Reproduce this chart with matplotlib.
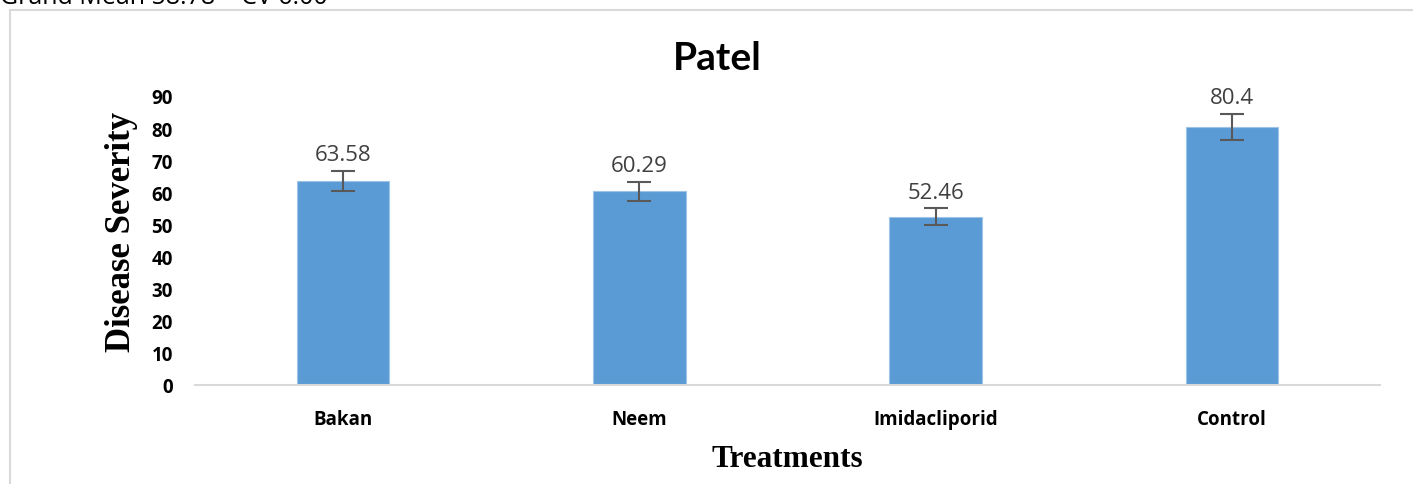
import matplotlib
matplotlib.use("Agg")
import matplotlib.pyplot as plt
from matplotlib.lines import Line2D

categories = ["Bakan", "Neem", "Imidacliporid", "Control"]
values = [63.58, 60.29, 52.46, 80.4]
errors = [3.2, 3.0, 2.6, 4.0]
value_labels = ["63.58", "60.29", "52.46", "80.4"]
yticks = [0, 10, 20, 30, 40, 50, 60, 70, 80, 90]

W, H = 1413, 485
fig = plt.figure(figsize=(W / 100, H / 100), dpi=100)
ax = fig.add_axes([195 / W, 1 - 386 / H, (1380 - 195) / W, (386 - 97) / H])

x = list(range(len(categories)))
ax.bar(x, values, width=0.313, color="#5B9BD5", edgecolor="#9DC3E6", linewidth=0.8, zorder=2)
ax.errorbar(x, values, yerr=errors, fmt="none", ecolor="#595959", elinewidth=1.5,
            capsize=8.5, capthick=1.5, zorder=3)
for xi, v, e, lab in zip(x, values, errors, value_labels):
    ax.annotate(lab, (xi, v + e), xytext=(0, 4), textcoords="offset points",
                ha="center", va="bottom", fontsize=16, color="#404040", family="Open Sans")

ax.set_xlim(-0.5, 3.5)
ax.set_ylim(0, 90)
ax.set_yticks(yticks)
ax.set_yticklabels([str(t) for t in yticks], fontsize=13.5, fontweight="bold", family="Open Sans")
ax.set_xticks(x)
ax.set_xticklabels(categories, fontsize=13.5, fontweight="bold", family="Open Sans")
ax.tick_params(axis="y", length=0, pad=16)
ax.tick_params(axis="x", length=0, pad=17)
for s in ["top", "right", "left"]:
    ax.spines[s].set_visible(False)
ax.spines["bottom"].set_color("#d9d9d9")
ax.spines["bottom"].set_linewidth(1.5)

fig.text(717 / W, 1 - 58 / H, "Patel", ha="center", va="center", fontsize=28,
         fontweight="bold", family="Lato", color="black")
fig.text(122 / W, 1 - 232 / H, "Disease Severity", rotation=90, ha="center", va="center",
         fontsize=25, fontweight="bold", family="Liberation Serif")
fig.text(787 / W, 1 - 460 / H, "Treatments", ha="center", va="center",
         fontsize=22.5, fontweight="bold", family="Liberation Serif")

fig.text(0, 1 - 4 / H, "Grand Mean 58.78    CV 6.00", ha="left", va="baseline",
         fontsize=18, family="Open Sans", color="black")

fig.add_artist(Line2D([10 / W, 10 / W], [0, 1 - 11 / H], transform=fig.transFigure,
                      color="#d9d9d9", linewidth=1.5))
fig.add_artist(Line2D([10 / W, 1], [1 - 11 / H, 1 - 11 / H], transform=fig.transFigure,
                      color="#d9d9d9", linewidth=1.5))

fig.savefig("out.png", dpi=100)
